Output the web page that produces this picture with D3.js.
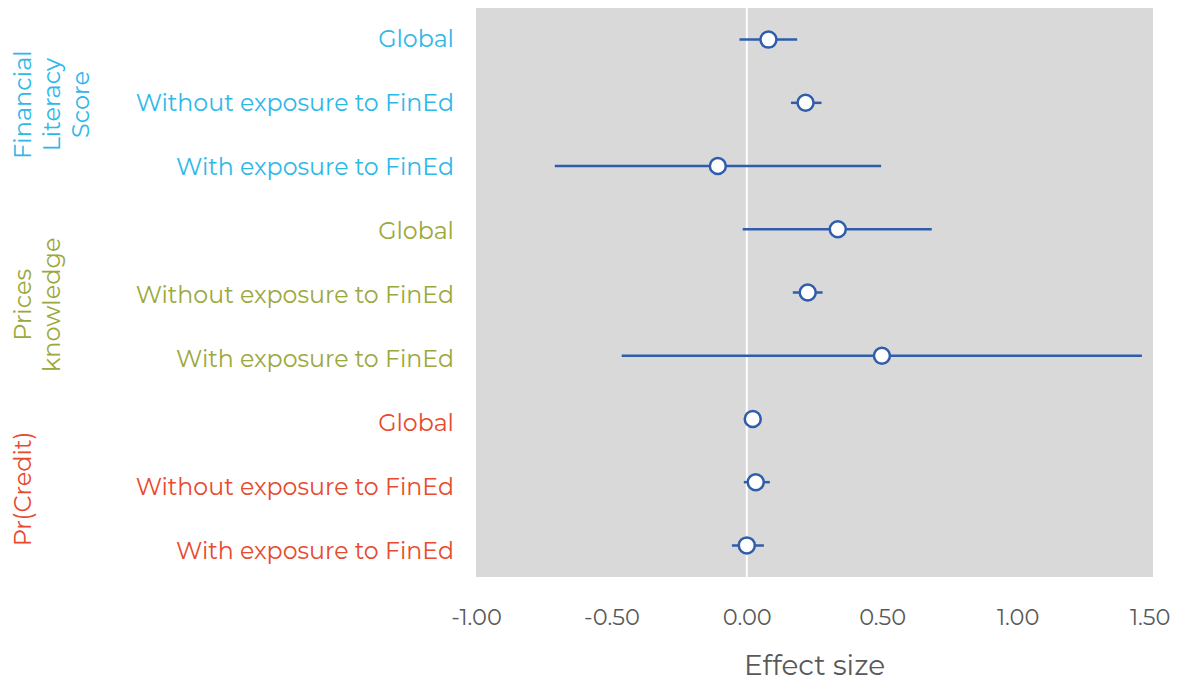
<!DOCTYPE html>
<html>
<head>
<meta charset="utf-8">
<script src="https://cdn.jsdelivr.net/npm/d3@7"></script>
<style>
  body { margin: 0; background: #fff; }
  text { font-family: "Montserrat", "Lato", "Open Sans", sans-serif; }
</style>
</head>
<body>
<div id="chart"></div>
<script>
// rows, top to bottom
var rowLabels = ['Global', 'Without exposure to FinEd', 'With exposure to FinEd',
                 'Global', 'Without exposure to FinEd', 'With exposure to FinEd',
                 'Global', 'Without exposure to FinEd', 'With exposure to FinEd'];
var rowGroup = [0, 0, 0, 1, 1, 1, 2, 2, 2];
var estimates = [0.08, 0.217, -0.107, 0.336, 0.225, 0.499, 0.022, 0.033, 0.0];
var lower = [-0.027, 0.163, -0.709, -0.015, 0.17, -0.462, 0.01, -0.011, -0.055];
var upper = [0.186, 0.276, 0.496, 0.683, 0.28, 1.459, 0.034, 0.085, 0.063];
var groupNames = [['Financial', 'Literacy', 'Score'], ['Prices', 'knowledge'], ['Pr(Credit)']];
var groupColors = ['#2DB8EA', '#9BA83C', '#E84A2E'];
var xTicks = [-1, -0.5, 0, 0.5, 1, 1.5];

var width = 1177, height = 681;
var margin = { top: 8, right: 24, bottom: 104, left: 476 };

var svg = d3.select('#chart').append('svg')
    .attr('width', width)
    .attr('height', height);

var x = d3.scaleLinear()
    .domain([-1, 1.5])
    .range([margin.left, width - margin.right]);

var y = d3.scaleBand()
    .domain(d3.range(rowLabels.length))
    .range([margin.top, height - margin.bottom]);

// the category labels sit on a slightly taller band than the markers
var yLabel = d3.scaleBand()
    .domain(d3.range(rowLabels.length))
    .range([margin.top - 1.5, height - margin.bottom + 6]);

// plot background
svg.append('rect')
    .attr('x', x(-1))
    .attr('y', margin.top)
    .attr('width', x(1.5) - x(-1))
    .attr('height', height - margin.bottom - margin.top)
    .attr('fill', '#D9D9D9');

// zero line
svg.append('line')
    .attr('x1', x(0)).attr('x2', x(0))
    .attr('y1', margin.top).attr('y2', height - margin.bottom)
    .attr('stroke', '#fff')
    .attr('stroke-width', 2);

// x axis
var xAxis = svg.append('g')
    .attr('transform', `translate(0,${height - margin.bottom + 29})`)
    .call(d3.axisBottom(x).tickValues(xTicks).tickFormat(d => d.toFixed(2)).tickSize(0))
    .call(g => g.select('.domain').remove());
xAxis.selectAll('text')
    .attr('font-size', 22.5)
    .attr('fill', '#595959')
    .attr('dy', '0.71em')
    .style('font-family', '"Montserrat", "Lato", "Open Sans", sans-serif');
// keep the last label inside the page
xAxis.selectAll('.tick').filter(d => d === 1.5).select('text')
    .attr('text-anchor', 'end')
    .attr('dx', width - 7 - x(1.5));

svg.append('text')
    .attr('x', (x(-1) + x(1.5)) / 2)
    .attr('y', 675)
    .attr('text-anchor', 'middle')
    .attr('font-size', 28)
    .attr('fill', '#595959')
    .text('Effect size');

// row labels
svg.append('g')
    .selectAll('text').data(rowLabels).enter().append('text')
    .attr('x', 454)
    .attr('y', (d, i) => yLabel(i) + yLabel.bandwidth() / 2)
    .attr('dy', '0.35em')
    .attr('text-anchor', 'end')
    .attr('font-size', 23.7)
    .attr('fill', (d, i) => groupColors[rowGroup[i]])
    .text(d => d);

// group labels (rotated)
var groupNudge = [2, 10, 2];
groupNames.forEach(function (lines, gi) {
    var rows = d3.range(rowLabels.length).filter(i => rowGroup[i] === gi);
    var cy = (yLabel(rows[0]) + yLabel(rows[rows.length - 1]) + yLabel.bandwidth()) / 2 + groupNudge[gi];
    var t = svg.append('text')
        .attr('transform', `translate(31,${cy}) rotate(-90)`)
        .attr('text-anchor', 'middle')
        .attr('font-size', 24)
        .attr('fill', groupColors[gi]);
    lines.forEach(function (ln, li) {
        t.append('tspan')
            .attr('x', 0)
            .attr('y', li * 29)
            .text(ln);
    });
});

// confidence intervals
svg.append('g')
    .selectAll('line').data(estimates).enter().append('line')
    .attr('x1', (d, i) => x(lower[i]))
    .attr('x2', (d, i) => x(upper[i]))
    .attr('y1', (d, i) => y(i) + y.bandwidth() / 2)
    .attr('y2', (d, i) => y(i) + y.bandwidth() / 2)
    .attr('stroke', '#2F5DAB')
    .attr('stroke-width', 2.5);

// point estimates
svg.append('g')
    .selectAll('circle').data(estimates).enter().append('circle')
    .attr('cx', d => x(d))
    .attr('cy', (d, i) => y(i) + y.bandwidth() / 2)
    .attr('r', 8)
    .attr('fill', '#fff')
    .attr('stroke', '#2F5DAB')
    .attr('stroke-width', 2.5);
</script>
</body>
</html>
